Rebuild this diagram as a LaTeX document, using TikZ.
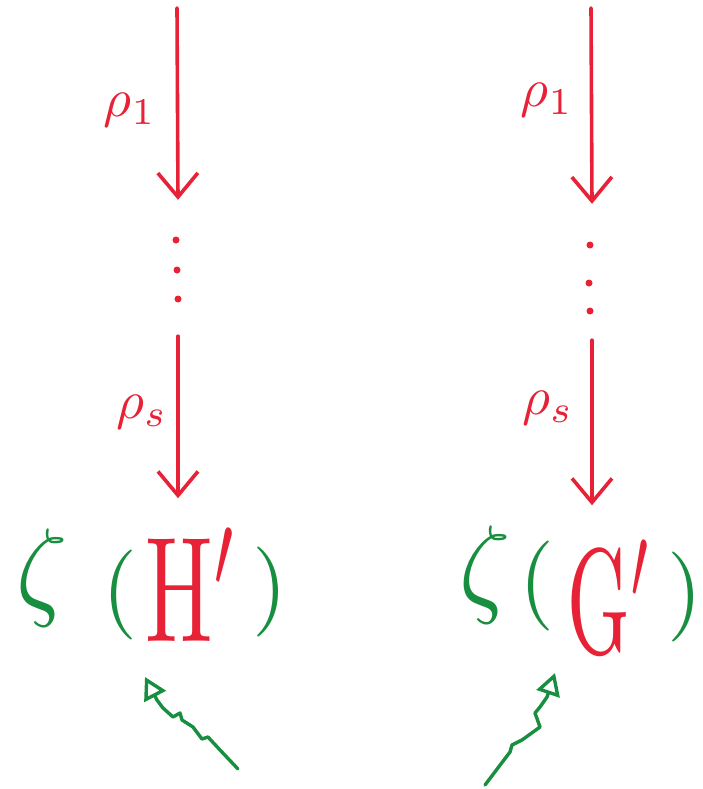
\documentclass[tikz,border=0pt]{standalone}
\usetikzlibrary{arrows.meta}
\definecolor{penred}{RGB}{232,34,54}
\definecolor{pengreen}{RGB}{24,142,64}
\begin{document}
\begin{tikzpicture}[x=1pt,y=-1pt,
  map/.style={penred, line width=3.6pt, line cap=round,
    -{Straight Barb[length=24pt,width=40pt,line width=3.6pt]}},
  hint/.style={pengreen, line width=3.4pt, line join=round, line cap=round,
    -{Triangle[open,length=22pt,width=24pt,line width=3.4pt]}},
  lab/.style={text=penred, scale=5.4, inner sep=0pt},
  glyph/.style={inner sep=0pt, scale=#1},
  tall/.style 2 args={inner sep=0pt, xscale=#1, yscale=#2},
  dotcol/.style={minimum width=10pt, minimum height=136pt, inner sep=0pt},
  dot/.style={penred},
]
\useasboundingbox[fill=white] (0,0) rectangle (702,789);

% ---- left column: zeta(H') ----
\coordinate (tL) at (177,8);
\node[dotcol] (dL) at (178,268) {};
\fill[dot] (176,240) circle (3.5pt) (177,270) circle (3.5pt) (178,299) circle (3.5pt);
\node[tall={10}{11}, text=pengreen] (zL) at (42,578) {$\zeta$};
\node[glyph=9, text=pengreen] (oL) at (120,595) {$($};
\node[tall={9}{15}, text=penred]   (H)  at (192,585) {$\mathrm{H}'$};
\node[glyph=9, text=pengreen] (cL) at (270,592) {$)$};
\draw[map] (tL) -- (dL.north);
\draw[map] (dL.south) -- ++(0,162);
\node[lab] (r1L) at (130,110) {$\rho_1$};
\node[lab] (rsL) at (142,412) {$\rho_s$};

% wavy hint towards H'
\coordinate (wL) at (238,769);
\draw[hint] (wL) -- (220,750) -- (208,737) -- (202,739) -- (193,727) -- (182,720)
  -- (180,713) -- (173,717) -- (163,708) -- (157,700) -- (145,677);

% ---- right column: zeta(G') ----
\coordinate (tR) at (591,8);
\node[dotcol] (dR) at (592,272) {};
\fill[dot] (590,245) circle (3.5pt) (589,283) circle (3.5pt) (590,311) circle (3.5pt);
\node[tall={10}{11}, text=pengreen] (zR) at (485,575) {$\zeta$};
\node[glyph=9, text=pengreen] (oR) at (537,586) {$($};
\node[tall={8}{15}, text=penred]   (G)  at (610,597) {$\mathrm{G}'$};
\node[glyph=9, text=pengreen] (cR) at (685,597) {$)$};
\draw[map] (tR) -- (dR.north);
\draw[map] (dR.south) -- ++(0,165);
\node[lab] (r1R) at (547,100) {$\rho_1$};
\node[lab] (rsR) at (548,408) {$\rho_s$};

% wavy hint towards the left parenthesis of zeta(G')
\coordinate (wR) at (485,785);
\draw[hint] (wR) -- (510,752) -- (512,745) -- (522,740) -- (540,727) -- (535,713)
  -- (540,707) -- (547,697) -- (555,673);
\end{tikzpicture}
\end{document}
